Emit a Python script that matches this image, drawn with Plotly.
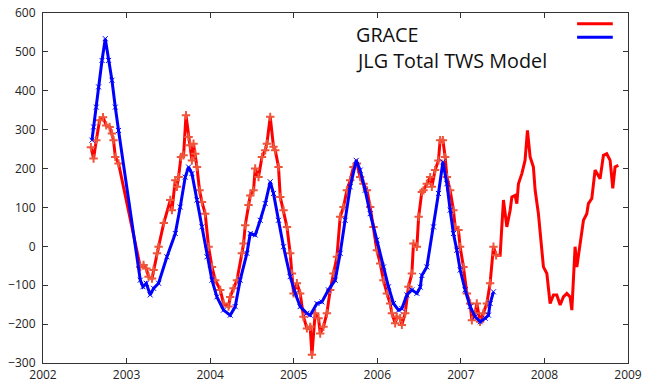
import plotly.graph_objects as go

# GRACE terrestrial water storage anomaly (decimal year, value)
grace_year = [
    2002.574, 2002.605, 2002.638, 2002.677, 2002.718, 2002.757, 2002.797, 2002.825, 2002.844, 2002.865,
    2002.904, 2003.164, 2003.203, 2003.236, 2003.263, 2003.304, 2003.323, 2003.364, 2003.383, 2003.445,
    2003.523, 2003.543, 2003.583, 2003.603, 2003.622, 2003.651, 2003.682, 2003.711, 2003.742, 2003.762,
    2003.782, 2003.801, 2003.822, 2003.842, 2003.873, 2003.902, 2003.941, 2003.981, 2004.022, 2004.061,
    2004.121, 2004.160, 2004.220, 2004.240, 2004.280, 2004.321, 2004.380, 2004.400, 2004.420, 2004.459,
    2004.480, 2004.519, 2004.539, 2004.579, 2004.620, 2004.659, 2004.679, 2004.719, 2004.758, 2004.779,
    2004.818, 2004.839, 2004.878, 2004.919, 2004.958, 2004.978, 2004.998, 2005.038, 2005.077, 2005.117,
    2005.158, 2005.197, 2005.218, 2005.257, 2005.297, 2005.317, 2005.356, 2005.397, 2005.437, 2005.476,
    2005.517, 2005.556, 2005.596, 2005.636, 2005.676, 2005.715, 2005.756, 2005.795, 2005.835, 2005.876,
    2005.915, 2005.955, 2005.995, 2006.035, 2006.074, 2006.115, 2006.154, 2006.175, 2006.214, 2006.234,
    2006.274, 2006.294, 2006.334, 2006.373, 2006.414, 2006.433, 2006.474, 2006.495, 2006.533, 2006.553,
    2006.593, 2006.633, 2006.653, 2006.692, 2006.732, 2006.752, 2006.785, 2006.812, 2006.833, 2006.872,
    2006.911, 2006.932, 2006.971, 2006.991, 2007.031, 2007.072, 2007.111, 2007.132, 2007.171, 2007.191,
    2007.230, 2007.270, 2007.311, 2007.350, 2007.390, 2007.422, 2007.470, 2007.490, 2007.510, 2007.550,
    2007.590, 2007.610, 2007.649, 2007.670, 2007.689, 2007.730, 2007.768, 2007.797, 2007.829, 2007.868,
    2007.889, 2007.928, 2007.969, 2007.988, 2008.029, 2008.068, 2008.108, 2008.148, 2008.188, 2008.227,
    2008.268, 2008.307, 2008.328, 2008.367, 2008.388, 2008.427, 2008.467, 2008.507, 2008.526, 2008.567,
    2008.606, 2008.666, 2008.706, 2008.746, 2008.786, 2008.818, 2008.845, 2008.884,
]
grace_tws = [
    255, 226, 273, 324, 332, 311, 307, 290, 273, 230,
    213, -53, -48, -57, -78, -83, -61, -18, -1, 60,
    119, 93, 170, 153, 178, 230, 234, 337, 281, 260,
    221, 264, 238, 204, 144, 114, 84, -1, -53, -87,
    -112, -147, -155, -130, -108, -87, -18, 7, 54, 106,
    131, 144, 200, 178, 230, 247, 264, 333, 256, 247,
    204, 127, 93, 50, -18, -70, -121, -95, -121, -181,
    -211, -207, -279, -172, -185, -224, -207, -172, -112, -70,
    -27, 76, 101, 144, 170, 204, 213, 178, 161, 144,
    101, 50, -10, -44, -87, -121, -147, -172, -198, -181,
    -185, -202, -172, -104, -70, 7, -1, 76, 140, 144,
    161, 178, 153, 196, 221, 273, 273, 230, 178, 144,
    93, 50, 42, -1, -53, -121, -147, -190, -172, -147,
    -194, -172, -147, -95, -1, -23, -23, 50, 119, 50,
    93, 127, 131, 110, 161, 187, 221, 298, 230, 204,
    144, 84, -18, -53, -70, -147, -125, -125, -151, -130,
    -121, -130, -164, -1, -53, 7, 67, 84, 110, 123,
    196, 174, 234, 238, 221, 149, 204, 208,
]

# JLG total TWS model (decimal year, value)
model_year = [
    2002.586, 2002.605, 2002.638, 2002.665, 2002.706, 2002.745, 2002.785, 2002.825, 2002.865, 2002.904,
    2003.164, 2003.196, 2003.236, 2003.283, 2003.323, 2003.383, 2003.483, 2003.583, 2003.642, 2003.702,
    2003.742, 2003.782, 2003.842, 2003.902, 2003.962, 2004.022, 2004.081, 2004.160, 2004.240, 2004.300,
    2004.359, 2004.440, 2004.480, 2004.539, 2004.599, 2004.659, 2004.719, 2004.758, 2004.818, 2004.878,
    2004.958, 2005.018, 2005.077, 2005.158, 2005.197, 2005.278, 2005.337, 2005.416, 2005.496, 2005.556,
    2005.615, 2005.676, 2005.748, 2005.795, 2005.855, 2005.915, 2005.995, 2006.074, 2006.134, 2006.194,
    2006.254, 2006.294, 2006.354, 2006.414, 2006.474, 2006.514, 2006.533, 2006.593, 2006.672, 2006.732,
    2006.785, 2006.833, 2006.872, 2006.911, 2006.952, 2006.992, 2007.051, 2007.111, 2007.171, 2007.231,
    2007.291, 2007.330, 2007.350, 2007.390,
]
model_tws = [
    273, 307, 358, 410, 478, 534, 478, 427, 358, 298,
    -87, -104, -95, -125, -108, -95, -27, 33, 101, 178,
    204, 187, 119, 50, -27, -87, -130, -164, -177, -155,
    -87, -18, 33, 29, 67, 110, 166, 136, 67, -1,
    -78, -121, -155, -172, -177, -147, -143, -112, -87, -18,
    67, 153, 221, 196, 144, 84, 16, -53, -104, -147,
    -164, -160, -125, -112, -121, -105, -75, -53, 50, 136,
    217, 161, 93, 33, -10, -61, -112, -155, -181, -194,
    -185, -177, -147, -117,
]

year_ticks = [2002, 2003, 2004, 2005, 2006, 2007, 2008, 2009]
legend_names = ["GRACE", "JLG Total TWS Model"]

RED = "#ff0000"
BLUE = "#0000ff"

# GRACE points carry "+" markers up to the end of the model record
marked = [i for i, t in enumerate(grace_year) if t <= model_year[-1] + 0.05]

fig = go.Figure()
fig.add_trace(go.Scatter(
    x=grace_year, y=grace_tws, mode="lines",
    line=dict(color=RED, width=3), name=legend_names[0],
))
fig.add_trace(go.Scatter(
    x=[grace_year[i] for i in marked], y=[grace_tws[i] for i in marked], mode="markers",
    marker=dict(symbol="cross-thin-open", size=6, line=dict(color="#e00000", width=2)),
    showlegend=False,
))
fig.add_trace(go.Scatter(
    x=model_year, y=model_tws, mode="lines+markers",
    line=dict(color=BLUE, width=3),
    marker=dict(symbol="x-thin-open", size=5, line=dict(color="#4a6cff", width=1)),
    name=legend_names[1],
))

axis_style = dict(
    showgrid=False, zeroline=False, showline=True, linecolor="#333333", linewidth=1,
    ticks="inside", ticklen=5, tickcolor="#333333", mirror="ticks", automargin=False,
    tickfont=dict(family="Open Sans", size=12, color="#222222"),
)
fig.update_xaxes(range=[2002, 2009], tickvals=year_ticks,
                 ticktext=[str(y) for y in year_ticks], ticklabelstandoff=1, **axis_style)
fig.update_yaxes(range=[-300, 600], dtick=100, ticklabelstandoff=4, **axis_style)

# key: labels on the left, line samples on the right
fig.add_annotation(text=legend_names[0], xref="paper", yref="paper", x=0.533, y=0.940,
                   xanchor="left", yanchor="middle", showarrow=False, borderpad=0,
                   font=dict(family="Open Sans", size=19.8, color="#111111"))
fig.add_annotation(text=legend_names[1], xref="paper", yref="paper", x=0.533, y=0.864,
                   xanchor="left", yanchor="middle", showarrow=False, borderpad=0,
                   font=dict(family="Open Sans", size=19.8, color="#111111"))
fig.add_shape(type="line", xref="paper", yref="paper", x0=0.913, x1=0.974, y0=0.969, y1=0.969,
              line=dict(color=RED, width=3))
fig.add_shape(type="line", xref="paper", yref="paper", x0=0.913, x1=0.974, y0=0.931, y1=0.931,
              line=dict(color=BLUE, width=3))

fig.update_layout(
    width=648, height=385,
    margin=dict(l=43, r=20, t=13, b=22),
    plot_bgcolor="white", paper_bgcolor="white",
    showlegend=False,
)

fig.write_html("out.html")
